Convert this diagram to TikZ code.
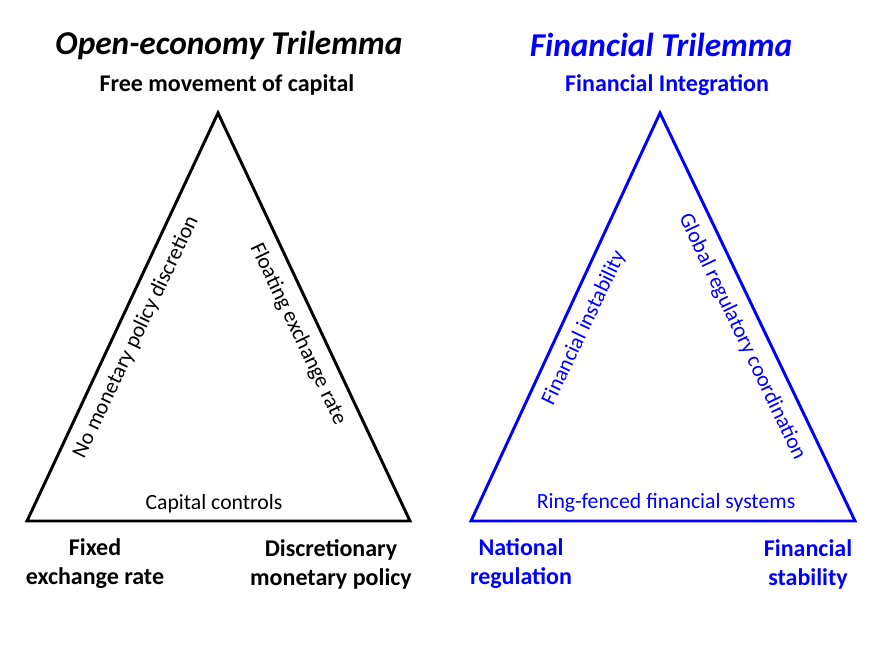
\documentclass[tikz,border=0pt]{standalone}
\usepackage{fontspec}
\setmainfont{Carlito}
\usepackage{tikz}
\usepackage{xcolor}
\newcommand*{\EdgeAngle}{64.5}

\begin{document}
\begin{tikzpicture}[x=0.75pt, y=-0.75pt,
    tri/.style={line width=2.2pt, line join=miter},
    title/.style={font=\fontsize{25}{28}\selectfont\bfseries\itshape},
    corner/.style={font=\fontsize{18}{21.75}\selectfont\bfseries, align=center},
    side/.style={font=\fontsize{16.3}{19}\selectfont}]
    \useasboundingbox (0,0) rectangle (873,650);
    % open-economy trilemma
    \coordinate (lt) at (218,113);
    \coordinate (ll) at (27,521);
    \coordinate (lr) at (410,521);
    \draw[tri] (lt) -- (ll) -- (lr) -- cycle;
    \node[title] (ltitle) at (229,45) {Open-economy Trilemma};
    \node[corner] (lcap) at (227,85) {Free movement of capital};
    \node[corner] (lfix) at (95,564) {Fixed\\exchange rate};
    \node[corner] (ldisc) at (331,564) {Discretionary\\monetary policy};
    \node[side] (lctrl) at (214,504) {Capital controls};
    \node[side, rotate=\EdgeAngle] (lnomp) at (136,337) {No monetary policy discretion};
    \node[side, rotate=-\EdgeAngle] (lfloat) at (298,334) {Floating exchange rate};
    % financial trilemma
    \begin{scope}[blue]
    \coordinate (rt) at (660,113);
    \coordinate (rl) at (471,521);
    \coordinate (rr) at (855,521);
    \draw[tri] (rt) -- (rl) -- (rr) -- cycle;
    \node[title] (rtitle) at (661,45) {Financial Trilemma};
    \node[corner] (rint) at (667,85) {Financial Integration};
    \node[corner] (rnat) at (521,564) {National\\regulation};
    \node[corner] (rstab) at (808,564) {Financial\\stability};
    \node[side] (rring) at (666,503) {Ring-fenced financial systems};
    \node[side, rotate=\EdgeAngle] (rinst) at (584,328) {Financial instability};
    \node[side, rotate=-\EdgeAngle] (rglob) at (742,337) {Global regulatory coordination};
    \end{scope}
\end{tikzpicture}
\end{document}
